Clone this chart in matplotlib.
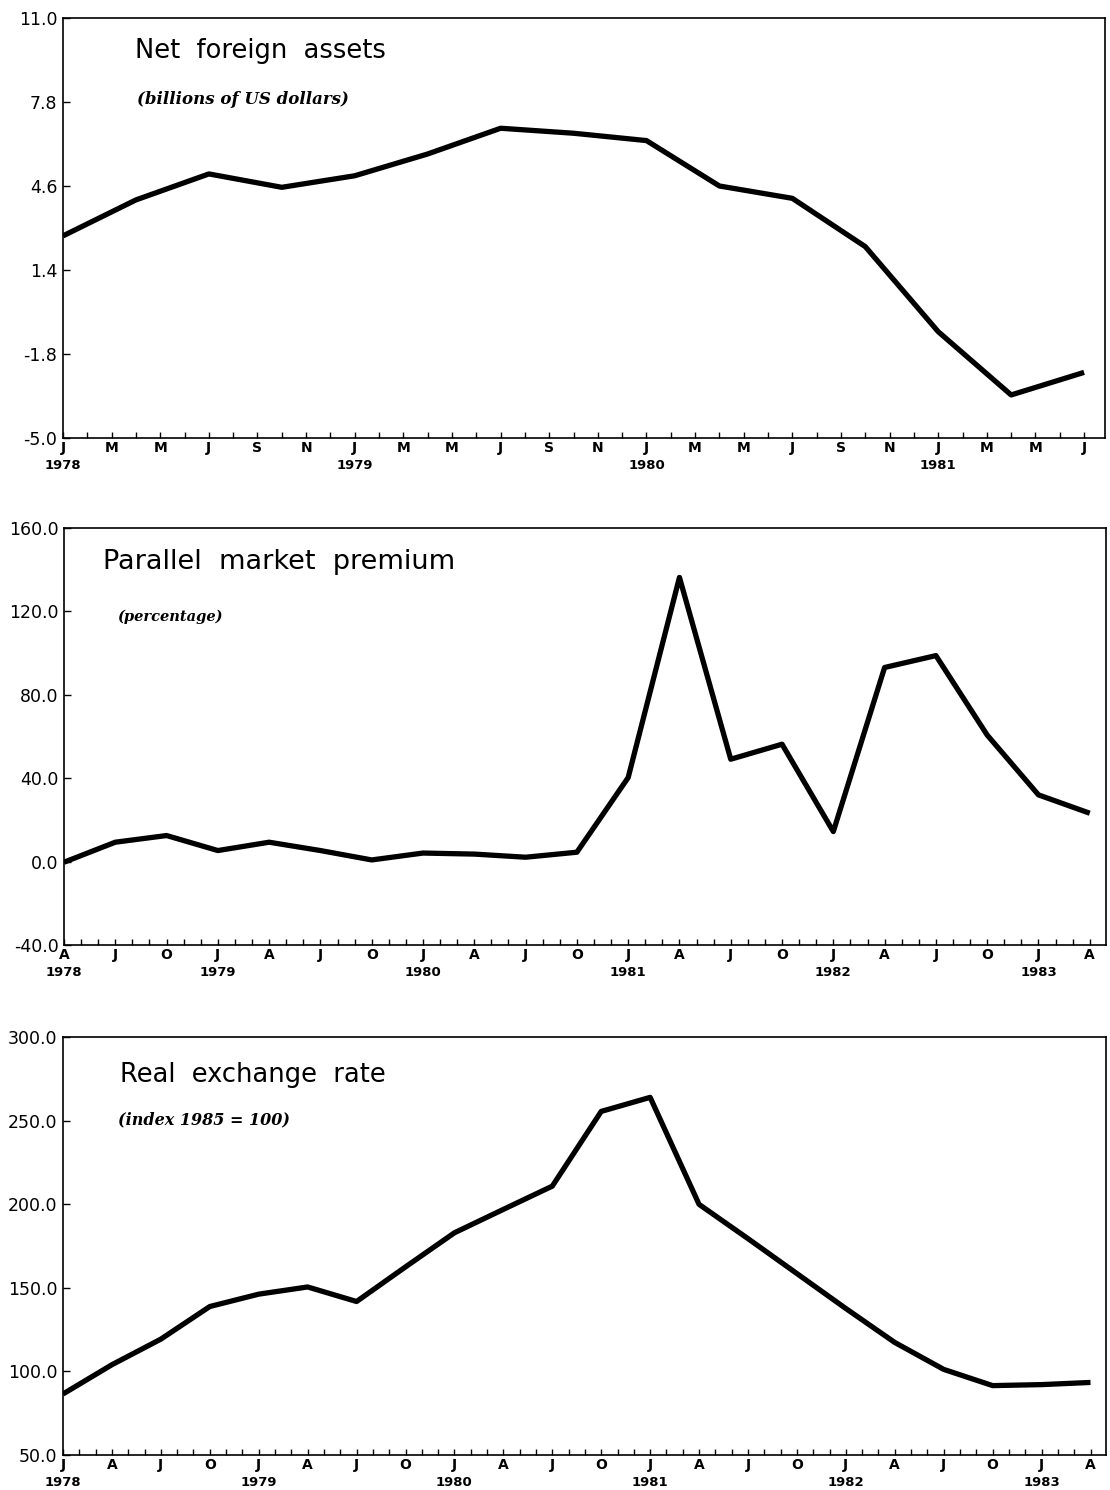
import matplotlib
matplotlib.use('Agg')
import matplotlib.pyplot as plt
from matplotlib.ticker import FixedLocator, MultipleLocator

W, H = 1110, 1490

# --- data (quarterly) ---
nfa_dates = ['1978-01', '1978-04', '1978-07', '1978-10', '1979-01', '1979-04', '1979-07', '1979-10',
             '1980-01', '1980-04', '1980-07', '1980-10', '1981-01', '1981-04', '1981-07']
nfa_values = [2.70, 4.07, 5.06, 4.55, 4.99, 5.82, 6.80, 6.61,
              6.33, 4.60, 4.13, 2.29, -0.95, -3.36, -2.50]

pmp_dates = ['1978-04', '1978-07', '1978-10', '1979-01', '1979-04', '1979-07', '1979-10',
             '1980-01', '1980-04', '1980-07', '1980-10', '1981-01', '1981-04', '1981-07',
             '1981-10', '1982-01', '1982-04', '1982-07', '1982-10', '1983-01', '1983-04']
pmp_values = [-0.3, 9.3, 12.5, 5.3, 9.3, 5.3, 0.8, 4.1, 3.6, 2.1, 4.5,
              40.3, 136.3, 49.1, 56.3, 14.4, 93.1, 98.8, 60.7, 32.0, 23.2]

rer_dates = ['1978-01', '1978-04', '1978-07', '1978-10', '1979-01', '1979-04', '1979-07', '1979-10',
             '1980-01', '1980-04', '1980-07', '1980-10', '1981-01', '1981-04', '1981-07', '1981-10',
             '1982-01', '1982-04', '1982-07', '1982-10', '1983-01', '1983-04']
rer_values = [86.5, 104.0, 119.3, 138.8, 146.2, 150.5, 141.8, 162.5,
              182.9, 196.9, 210.8, 255.5, 263.9, 199.9, 179.4, 158.5,
              137.6, 117.3, 101.2, 91.5, 92.1, 93.4]

nfa_yticks = [-5.0, -1.8, 1.4, 4.6, 7.8, 11.0]
pmp_yticks = [-40.0, 0.0, 40.0, 80.0, 120.0, 160.0]
rer_yticks = [50.0, 100.0, 150.0, 200.0, 250.0, 300.0]

month_letters = ['J', 'F', 'M', 'A', 'M', 'J', 'J', 'A', 'S', 'O', 'N', 'D']


def to_month(s):
    y, m = s.split('-')
    return (int(y) - 1978) * 12 + int(m) - 1


def add_panel(box, dates, values, yticks, xlim, step, first,
              title, title_xy, title_size, sub, sub_xy, sub_size):
    l, t, r, b = box
    ax = fig.add_axes([l / W, 1 - b / H, (r - l) / W, (b - t) / H])
    x = [to_month(d) for d in dates]
    ax.plot(x, values, color='black', lw=3.8, solid_joinstyle='round',
            solid_capstyle='butt')
    ax.set_xlim(*xlim)
    ax.set_ylim(yticks[0], yticks[-1])
    ax.yaxis.set_major_locator(FixedLocator(yticks))
    ax.set_yticklabels(['%.1f' % v for v in yticks])

    major = list(range(first, int(xlim[1]) + 1, step))
    ax.xaxis.set_major_locator(FixedLocator(major))
    ax.set_xticklabels([month_letters[m % 12] for m in major],
                       fontweight='bold', fontsize=10)
    ax.xaxis.set_minor_locator(MultipleLocator(1))
    # year under each January (and under the first tick)
    for m in major:
        if m % 12 == 0 or m == first:
            ax.annotate('%d' % (1978 + m // 12), xy=(m, 0),
                        xycoords=('data', 'axes fraction'),
                        xytext=(0, -20), textcoords='offset points',
                        ha='center', va='center', fontsize=9.5, fontweight='bold')

    ax.tick_params(axis='x', which='both', direction='in', length=4, width=1, pad=2)
    ax.tick_params(axis='y', which='major', direction='in', length=5, width=1,
                   pad=4, labelsize=12.5)
    for s in ax.spines.values():
        s.set_linewidth(1.2)

    fig.text(title_xy[0] / W, 1 - title_xy[1] / H, title, fontsize=title_size,
             va='center', ha='left')
    fig.text(sub_xy[0] / W, 1 - sub_xy[1] / H, sub, fontsize=sub_size,
             family='DejaVu Serif', style='italic', fontweight='bold',
             va='center', ha='left')
    return ax


fig = plt.figure(figsize=(W / 100, H / 100), dpi=100)

add_panel((63, 18, 1105, 438), nfa_dates, nfa_values, nfa_yticks, (0, 42.86), 2, 0,
          'Net  foreign  assets', (135, 51), 18.5,
          '(billions of US dollars)', (137, 100), 12)
add_panel((64, 528, 1106, 945), pmp_dates, pmp_values, pmp_yticks, (3, 63.95), 3, 3,
          'Parallel  market  premium', (103, 562), 19.5,
          '(percentage)', (117, 617), 10.5)
add_panel((63, 1037, 1106, 1455), rer_dates, rer_values, rer_yticks, (0, 63.95), 3, 0,
          'Real  exchange  rate', (120, 1075), 18.5,
          '(index 1985 = 100)', (118, 1120), 11.5)

fig.savefig('out.png', dpi=100)
